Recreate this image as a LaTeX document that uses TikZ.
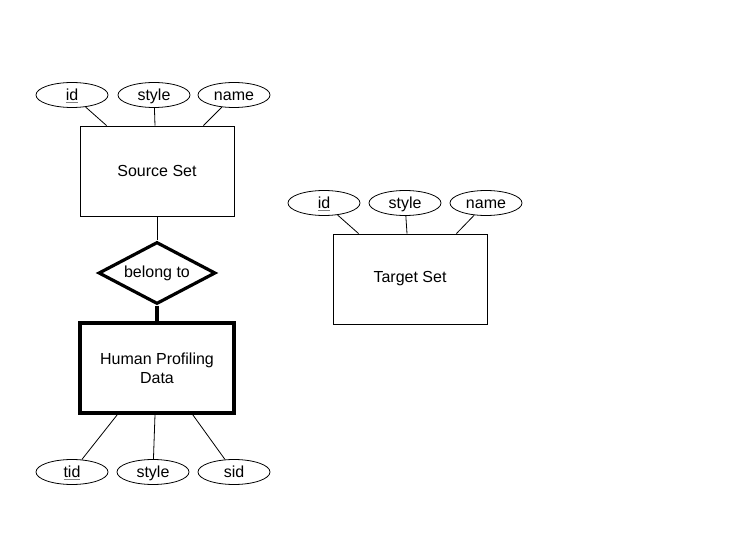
\documentclass[tikz,border=0pt]{standalone}
\usepackage{fontspec}
\setmainfont{Liberation Sans}
\usetikzlibrary{shapes.geometric}

\tikzset{
    entity/.style={draw, line width=0.8pt, minimum width=154pt, minimum height=90pt, align=center, font=\fontsize{16}{19}\selectfont},
    weakentity/.style={entity, line width=3.5pt},
    attr/.style={draw, ellipse, line width=0.8pt, minimum width=72pt, minimum height=25pt, inner sep=0pt, text height=13.5pt, text depth=1.5pt, font=\fontsize{16}{19}\selectfont},
    relation/.style={draw, diamond, line width=3.2pt, minimum width=117pt, minimum height=62pt, aspect=1.9, inner sep=0pt, font=\fontsize{16}{19}\selectfont},
    link/.style={line width=0.8pt},
}
\newcommand{\keyattr}[1]{\textcolor{gray}{\underline{\textcolor{black}{#1}}}}

\begin{document}
\begin{tikzpicture}[x=1pt, y=-1pt]
    \useasboundingbox[fill=white] (0,0) rectangle (756,553);

    % Source set and its attributes
    \node[entity] (src) at (157,171) {Source Set};
    \node[attr] (srcid) at (72,95) {\keyattr{id}};
    \node[attr] (srcstyle) at (154,95) {style};
    \node[attr] (srcname) at (234,95) {name};
    \draw[link] (srcid) -- ([xshift=27pt]src.north west);
    \draw[link] (srcstyle) -- ([xshift=-2pt]src.north);
    \draw[link] (srcname) -- ([xshift=-31pt]src.north east);

    % Relationship
    \node[relation] (belong) at (157,273) {belong to};
    \draw[link] (src.south) -- (belong.north);

    % Human profiling data and its attributes
    \node[weakentity] (hpd) at (157,368) {Human Profiling\\Data};
    \draw[line width=3.5pt] (belong.south) -- (hpd.north);
    \node[attr] (hpdtid) at (72,472) {\keyattr{tid}};
    \node[attr] (hpdstyle) at (153,472) {style};
    \node[attr] (hpdsid) at (234,472) {sid};
    \draw[link] ([xshift=39pt]hpd.south west) -- (hpdtid);
    \draw[link] ([xshift=-2pt]hpd.south) -- (hpdstyle);
    \draw[link] ([xshift=-43pt]hpd.south east) -- (hpdsid);

    % Target set and its attributes
    \node[entity] (tgt) at (410,279) {Target Set};
    \node[attr] (tgtid) at (324,203) {\keyattr{id}};
    \node[attr] (tgtstyle) at (405,203) {style};
    \node[attr] (tgtname) at (486,203) {name};
    \draw[link] (tgtid) -- ([xshift=26pt]tgt.north west);
    \draw[link] (tgtstyle) -- ([xshift=-3pt]tgt.north);
    \draw[link] (tgtname) -- ([xshift=-31pt]tgt.north east);
\end{tikzpicture}
\end{document}
